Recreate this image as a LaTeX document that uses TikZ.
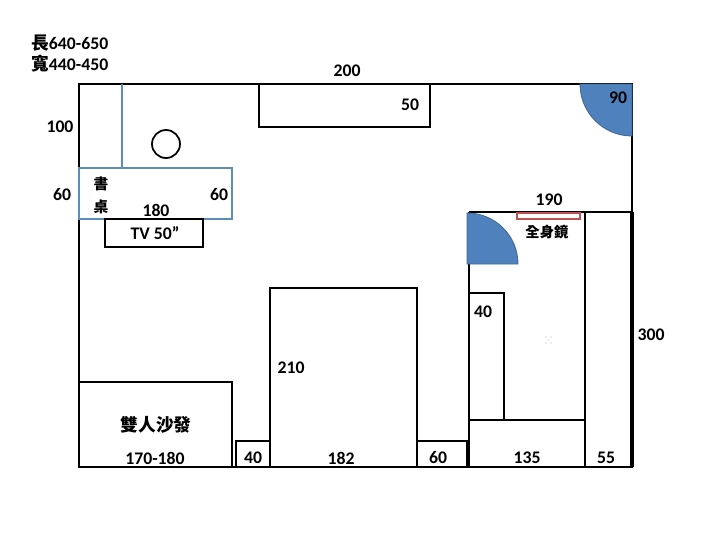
\documentclass[tikz,border=0pt]{standalone}
\usepackage{fontspec}
\setmainfont{Carlito}
\newfontfamily\cjk{Noto Sans CJK TC}
\definecolor{doorblue}{HTML}{4F81BD}
\definecolor{deskblue}{HTML}{5B8DB8}
\definecolor{mirrorred}{HTML}{C0504D}

\begin{document}
\begin{tikzpicture}[
    x=0.025cm,
    y=-0.025cm,
    every node/.style={
        inner sep=0pt,
        font=\fontsize{12.6}{14}\selectfont\bfseries,
        text=black
    },
    zh/.style={
        font=\fontsize{10.5}{12}\selectfont\cjk\bfseries
    },
    wall/.style={draw=black, line width=1.25pt},
    desk/.style={draw=deskblue, line width=1.25pt},
    door/.style={fill=doorblue, draw=doorblue!80!black, line width=0.6pt}
]
\useasboundingbox (0,0) rectangle (720,540);

% room
\draw[wall, line width=1.5pt] (79,84) rectangle (632,467);
\draw[wall, line width=2.2pt] (632,212) -- (632,467);

% desk side
\draw[desk] (122,84) -- (122,168);
\draw[desk] (79,168) rectangle (232,219);
\draw[wall] (166,144) circle[radius=14];
\draw[wall] (105,219) rectangle (203,247);
\draw[wall] (259,84) rectangle (430,127);

% closet
\draw[wall] (469,212) -- (632,212);
\draw[wall] (469,212) -- (469,467);
\draw[wall] (585,212) -- (585,467);
\draw[wall] (469,420) -- (585,420);
\draw[wall] (469,293) rectangle (504,420);
\draw[draw=mirrorred, fill=white, line width=1.1pt] (517,213) rectangle (580,219);

% furniture
\draw[wall] (79,382) rectangle (232,467);
\draw[wall] (236,441) rectangle (270,467);
\draw[wall] (270,288) rectangle (417,467);
\draw[wall] (417,441) rectangle (467,467);

% doors
\filldraw[door] (580,84) arc[start angle=180, end angle=90, radius=52] -- (632,84) -- cycle;
\filldraw[door] (467,213) arc[start angle=-90, end angle=0, radius=51] -- (467,264) -- cycle;

% speck
\foreach \px/\py in {546/337, 551/337, 546/343, 551/343, 549/340}
    \fill[gray!60] (\px,\py) circle[radius=0.6];

% labels
\node[anchor=west] (length) at (31,43) {{\cjk 長}640-650};
\node[anchor=west] (width) at (31,64) {{\cjk 寬}440-450};
\node (top) at (347,71) {200};
\node (cabinet) at (410,105) {50};
\node (doora) at (618,98) {90};
\node (wallup) at (60,127) {100};
\node (walldesk) at (62,195) {60};
\node (deskw) at (219,195) {60};
\node (deskl) at (156,210) {180};
\node[zh] (deskzha) at (101,184) {書};
\node[zh] (deskzhb) at (101,207) {桌};
\node (tv) at (155,233) {TV 50”};
\node (closet) at (549,200) {190};
\node[zh, font=\fontsize{10.2}{12}\selectfont\cjk\bfseries] (mirror) at (547,232) {全身鏡};
\node (shelf) at (483,312) {40};
\node (wallright) at (651,335) {300};
\node (bedl) at (291,368) {210};
\node[zh, font=\fontsize{12.6}{14}\selectfont\cjk\bfseries] (sofazh) at (156,425) {雙人沙發};
\node (sofa) at (155,458) {170-180};
\node (stand) at (253,458) {40};
\node (bedw) at (341,458) {182};
\node (nightstand) at (438,458) {60};
\node (bottom) at (527,458) {135};
\node (side) at (606,458) {55};

\end{tikzpicture}
\end{document}
